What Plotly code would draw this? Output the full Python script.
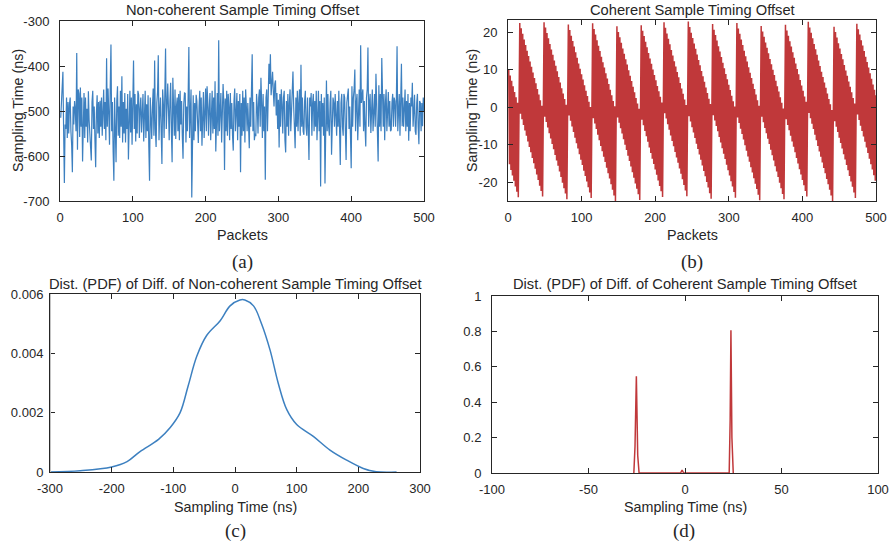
import plotly.graph_objects as go

# %% DATA
packets = list(range(1, 501))

# (a) non-coherent sample timing offset (ns)
noncoherent_offset = [
    -515, -470, -455, -413, -545, -660, -530, -540, -470, -560, -480, -550, -485, -470, -545, -575, -636, -490, -530, -478,
    -498, -545, -371, -586, -452, -462, -558, -448, -535, -470, -612, -500, -460, -560, -470, -535, -495, -570, -456, -520,
    -545, -575, -610, -480, -455, -540, -490, -565, -625, -505, -465, -550, -480, -560, -477, -535, -470, -555, -505, -452,
    -540, -480, -565, -383, -535, -450, -505, -575, -448, -352, -545, -480, -590, -655, -470, -540, -614, -478, -445, -555,
    -490, -560, -455, -535, -423, -570, -480, -550, -460, -570, -495, -540, -462, -608, -485, -455, -548, -470, -575, -500,
    -388, -540, -462, -568, -485, -550, -455, -464, -560, -495, -470, -548, -480, -462, -568, -495, -455, -560, -485, -545,
    -465, -580, -655, -470, -540, -562, -490, -450, -555, -388, -540, -580, -482, -458, -376, -565, -500, -470, -545, -618,
    -452, -485, -560, -462, -361, -540, -470, -439, -495, -565, -478, -437, -545, -614, -426, -485, -555, -452, -562, -490,
    -470, -545, -462, -565, -455, -530, -478, -555, -606, -485, -460, -461, -570, -490, -545, -470, -358, -560, -485, -452,
    -692, -495, -465, -565, -482, -545, -464, -478, -555, -571, -490, -455, -545, -470, -577, -495, -458, -560, -482, -450,
    -545, -445, -478, -555, -495, -460, -565, -480, -455, -550, -470, -540, -434, -590, -490, -460, -555, -343, -545, -480,
    -460, -570, -495, -440, -480, -631, -472, -545, -455, -555, -462, -490, -565, -460, -540, -482, -555, -588, -478, -450,
    -545, -488, -460, -565, -478, -535, -462, -636, -482, -555, -455, -545, -470, -570, -452, -490, -545, -482, -555, -583,
    -470, -535, -455, -374, -545, -480, -565, -550, -556, -462, -490, -550, -470, -452, -535, -426, -482, -560, -462, -545,
    -490, -653, -470, -452, -545, -455, -395, -440, -374, -465, -420, -413, -455, -490, -440, -432, -510, -460, -540, -475,
    -581, -462, -535, -452, -485, -550, -470, -455, -565, -592, -478, -535, -462, -555, -482, -452, -545, -482, -470, -412,
    -490, -565, -583, -470, -535, -455, -545, -482, -452, -555, -397, -535, -470, -545, -553, -478, -455, -535, -555, -470,
    -545, -609, -470, -490, -460, -555, -482, -462, -545, -478, -535, -455, -565, -482, -455, -545, -478, -668, -462, -535,
    -482, -555, -470, -661, -490, -432, -545, -462, -535, -555, -482, -455, -597, -545, -470, -482, -535, -462, -516, -555,
    -478, -535, -455, -545, -620, -482, -462, -535, -555, -462, -470, -545, -609, -482, -462, -450, -540, -490, -555, -627,
    -445, -535, -470, -452, -408, -545, -482, -462, -565, -478, -452, -535, -354, -482, -462, -452, -545, -478, -535, -579,
    -470, -452, -359, -535, -482, -462, -549, -478, -452, -545, -482, -462, -535, -417, -482, -555, -612, -443, -535, -462,
    -545, -382, -478, -535, -462, -565, -482, -452, -545, -470, -458, -535, -478, -545, -542, -482, -462, -535, -470, -478,
    -535, -478, -356, -545, -482, -462, -555, -490, -395, -534, -470, -535, -482, -452, -545, -478, -535, -462, -566, -482,
    -545, -470, -490, -437, -535, -478, -464, -545, -553, -482, -462, -535, -574, -478, -482, -545, -482, -534, -470, -500,
]

# (b) coherent sample timing offset (ns)
coherent_offset = [
    10.0, -15.2, 8.5, -16.7, 7.1, -18.2, 5.6, -19.6, 4.1, -21.1,
    2.7, -22.5, 1.2, -24.0, -0.2, 22.5, -1.7, 21.1, -3.2, 19.6,
    -4.7, 18.1, -6.2, 16.6, -7.6, 15.1, -9.1, 13.7, -10.6, 12.2,
    -12.0, 10.8, -13.5, 9.3, -14.9, 7.8, -16.4, 6.4, -17.9, 4.9,
    -19.4, 3.4, -20.9, 1.9, -22.3, 0.4, -23.8, -1.0, 22.7, -2.5,
    21.3, -3.9, 19.8, -5.4, 18.4, -6.9, 16.9, -8.3, 15.4, -9.8,
    14.0, -11.2, 12.5, -12.7, 11.1, -14.2, 9.6, -15.6, 8.1, -17.1,
    6.6, -18.6, 5.1, -20.1, 3.7, -21.6, 2.2, -23.0, 0.7, -24.5,
    -0.7, 22.1, -2.2, 20.6, -3.6, 19.1, -5.1, 17.7, -6.6, 16.2,
    -8.1, 14.7, -9.6, 13.2, -11.0, 11.7, -12.5, 10.3, -14.0, 8.8,
    -15.4, 7.4, -16.9, 5.9, -18.3, 4.4, -19.8, 3.0, -21.3, 1.5,
    -22.7, 0.1, -24.2, -1.4, 22.4, -2.9, 20.9, -4.3, 19.4, -5.8,
    17.9, -7.3, 16.4, -8.8, 15.0, -10.3, 13.5, -11.7, 12.0, -13.2,
    10.6, -14.6, 9.1, -16.1, 7.7, -17.6, 6.2, -19.0, 4.7, -20.5,
    3.2, -22.0, 1.7, -23.5, 0.3, -25.0, -1.2, 21.6, -2.7, 20.1,
    -4.1, 18.7, -5.6, 17.2, -7.0, 15.7, -8.5, 14.3, -10.0, 12.8,
    -11.4, 11.4, -12.9, 9.9, -14.3, 8.4, -15.8, 7.0, -17.3, 5.5,
    -18.8, 4.0, -20.3, 2.5, -21.7, 1.0, -23.2, -0.4, -24.7, -1.9,
    21.9, -3.3, 20.4, -4.8, 19.0, -6.3, 17.5, -7.7, 16.0, -9.2,
    14.5, -10.7, 13.0, -12.2, 11.6, -13.7, 10.1, -15.1, 8.6, -16.6,
    7.2, -18.0, 5.7, -19.5, 4.3, -21.0, 2.8, -22.4, 1.3, -23.9,
    -0.1, 22.7, -1.6, 21.2, -3.0, 19.7, -4.5, 18.3, -6.0, 16.8,
    -7.5, 15.3, -9.0, 13.8, -10.4, 12.3, -11.9, 10.9, -13.4, 9.4,
    -14.8, 8.0, -16.3, 6.5, -17.7, 5.0, -19.2, 3.6, -20.7, 2.1,
    -22.2, 0.6, -23.7, -0.9, 22.9, -2.4, 21.4, -3.8, 19.9, -5.3,
    18.5, -6.7, 17.0, -8.2, 15.6, -9.7, 14.1, -11.1, 12.6, -12.6,
    11.2, -14.0, 9.7, -15.5, 8.3, -17.0, 6.8, -18.4, 5.3, -19.9,
    3.8, -21.4, 2.3, -22.9, 0.9, -24.4, -0.6, 22.2, -2.1, 20.7,
    -3.5, 19.3, -5.0, 17.8, -6.4, 16.3, -7.9, 14.9, -9.4, 13.4,
    -10.9, 11.9, -12.4, 10.4, -13.8, 8.9, -15.3, 7.5, -16.8, 6.0,
    -18.2, 4.6, -19.7, 3.1, -21.1, 1.6, -22.6, 0.2, -24.1, -1.3,
    22.5, -2.7, 21.0, -4.2, 19.6, -5.7, 18.1, -7.1, 16.6, -8.6,
    15.1, -10.1, 13.6, -11.6, 12.2, -13.1, 10.7, -14.5, 9.2, -16.0,
    7.8, -17.4, 6.3, -18.9, 4.9, -20.4, 3.4, -21.8, 1.9, -23.3,
    0.4, -24.8, -1.1, 21.7, -2.5, 20.2, -4.0, 18.8, -5.5, 17.3,
    -6.9, 15.9, -8.4, 14.4, -9.8, 12.9, -11.3, 11.5, -12.8, 10.0,
    -14.2, 8.6, -15.7, 7.1, -17.1, 5.6, -18.6, 4.2, -20.1, 2.7,
    -21.6, 1.2, -23.1, -0.3, -24.5, -1.8, 22.0, -3.2, 20.5, -4.7,
    19.1, -6.1, 17.6, -7.6, 16.2, -9.1, 14.7, -10.5, 13.2, -12.0,
    11.7, -13.5, 10.2, -15.0, 8.8, -16.5, 7.3, -17.9, 5.8, -19.4,
    4.4, -20.8, 2.9, -22.3, 1.5, -23.8, 0.0, 22.8, -1.5, 21.3,
    -2.9, 19.9, -4.4, 18.4, -5.8, 16.9, -7.3, 15.5, -8.8, 14.0,
    -10.3, 12.5, -11.8, 11.0, -13.2, 9.5, -14.7, 8.1, -16.2, 6.6,
    -17.6, 5.2, -19.1, 3.7, -20.5, 2.2, -22.0, 0.8, -23.5, -0.7,
    -25.0, -2.2, 21.5, -3.7, 20.1, -5.2, 18.6, -6.6, 17.1, -8.1,
    15.7, -9.5, 14.2, -11.0, 12.8, -12.5, 11.3, -13.9, 9.8, -15.4,
    8.4, -16.8, 6.9, -18.3, 5.5, -19.8, 4.0, -21.2, 2.5, -22.7,
    1.0, -24.2, -0.5, 22.3, -1.9, 20.8, -3.4, 19.4, -4.9, 17.9,
    -6.3, 16.5, -7.8, 15.0, -9.2, 13.5, -10.7, 12.1, -12.2, 10.6,
    -13.7, 9.1, -15.2, 7.6, -16.6, 6.1, -18.1, 4.7, -19.6, 3.2,
]

# (c) PDF of diff of non-coherent offset
pdf_nc_time = [-300, -251, -200, -175, -154, -124, -105, -89, -76, -62, -46, -24, -8, 8, 16,
               30, 43, 57, 70, 84, 100, 127, 154, 181, 208, 229, 262]
pdf_nc_value = [0, 0.000045, 0.00017, 0.00035, 0.00069, 0.0011, 0.0015, 0.0020, 0.0029, 0.0039,
                0.0046, 0.0051, 0.0056, 0.0058, 0.0058, 0.0056, 0.0050, 0.0041, 0.0030, 0.0021,
                0.0016, 0.0012, 0.00074, 0.0004, 0.00012, 0.00001, 0]

# (d) PDF of diff of coherent offset
pdf_c_time = [-26.5, -25.9, -25.2, -24.5, -23.8, -2.3, -1.5, -0.7, 22.9, 23.4, 23.8, 24.3, 25.0]
pdf_c_value = [0, 0.15, 0.547, 0.10, 0, 0, 0.017, 0, 0, 0.30, 0.806, 0.20, 0]

BLUE = "#3d80c0"
RED = "#c0383a"
INK = "#262626"
FONT = "Arial, Liberation Sans, sans-serif"
SERIF = "Times New Roman, Liberation Serif, serif"

# %% FIGURE
fig = go.Figure()
fig.add_trace(go.Scatter(x=packets, y=noncoherent_offset, mode="lines",
                         line=dict(color=BLUE, width=1.2), xaxis="x", yaxis="y"))
fig.add_trace(go.Scatter(x=packets, y=coherent_offset, mode="lines",
                         line=dict(color=RED, width=1.5), xaxis="x2", yaxis="y2"))
fig.add_trace(go.Scatter(x=pdf_nc_time, y=pdf_nc_value, mode="lines", line_shape="spline",
                         line=dict(color=BLUE, width=1.5), xaxis="x3", yaxis="y3"))
fig.add_trace(go.Scatter(x=pdf_c_time, y=pdf_c_value, mode="lines",
                         line=dict(color=RED, width=1.5), xaxis="x4", yaxis="y4"))


def ax(domain, rng, tickvals, anchor, ticktext=None, standoff=4):
    return dict(domain=domain, range=rng, tickvals=tickvals,
                ticktext=ticktext or [str(v) for v in tickvals], anchor=anchor,
                automargin=False, showline=True, linecolor=INK, linewidth=1,
                mirror="ticks", ticks="inside", ticklen=5, tickcolor=INK,
                showgrid=False, zeroline=False, ticklabelstandoff=standoff,
                tickfont=dict(family=FONT, size=13, color=INK))


W, H = 891, 549
fig.update_layout(
    template="none",
    width=W, height=H, margin=dict(l=0, r=0, t=0, b=0, pad=0),
    paper_bgcolor="white", plot_bgcolor="white", showlegend=False,
    xaxis=ax([60 / W, 424 / W], [0, 500], [0, 100, 200, 300, 400, 500], "y"),
    yaxis=ax([1 - 201 / H, 1 - 21 / H], [-700, -300], [-700, -600, -500, -400, -300], "x",
             standoff=7),
    xaxis2=ax([508 / W, 876 / W], [0, 500], [0, 100, 200, 300, 400, 500], "y2"),
    yaxis2=ax([1 - 201 / H, 1 - 20 / H], [-25, 23.3], [-20, -10, 0, 10, 20], "x2",
              standoff=7),
    xaxis3=ax([50 / W, 420 / W], [-300, 300], [-300, -200, -100, 0, 100, 200, 300], "y3"),
    yaxis3=ax([1 - 472 / H, 1 - 294 / H], [0, 0.006], [0, 0.002, 0.004, 0.006], "x3",
              ["0", "0.002", "0.004", "0.006"], standoff=3),
    xaxis4=ax([492 / W, 878 / W], [-100, 100], [-100, -50, 0, 50, 100], "y4"),
    yaxis4=ax([1 - 473 / H, 1 - 296 / H], [0, 1], [0, 0.2, 0.4, 0.6, 0.8, 1], "x4",
              ["0", "0.2", "0.4", "0.6", "0.8", "1"], standoff=7),
)

# light grey left spine of panel (c), as in the source figure
fig.add_shape(type="line", xref="x3", yref="y3", x0=-300, x1=-300, y0=0, y1=0.006,
              line=dict(color="#c4c4c4", width=2), layer="above")


def label(text, x, y, size=14.3, angle=0, family=FONT):
    fig.add_annotation(text=text, x=x / W, y=1 - y / H, xref="paper", yref="paper",
                       showarrow=False, textangle=angle, xanchor="center", yanchor="middle",
                       font=dict(family=family, size=size, color=INK))


label("Non-coherent Sample Timing Offset", 242, 10, size=14.7)
label("Coherent Sample Timing Offset", 692, 10, size=14.7)
label("Dist. (PDF) of Diff. of Non-coherent Sample Timing Offset", 235, 284, size=14.7)
label("Dist. (PDF) of Diff. of Coherent Sample Timing Offset", 685, 284, size=14.7)
label("Packets", 242, 235)
label("Packets", 692, 235)
label("Sampling Time (ns)", 18, 111, angle=-90)
label("Sampling Time (ns)", 472, 111, angle=-90)
label("Sampling Time (ns)", 235, 507)
label("Sampling Time (ns)", 685, 507)
label("(a)", 242, 262, size=19, family=SERIF)
label("(b)", 692, 262, size=19, family=SERIF)
label("(c)", 235, 531, size=19, family=SERIF)
label("(d)", 684, 531, size=19, family=SERIF)

# the page has a default 8px body margin; remove it so the figure fills the window
fig.write_html("out.html", config={"displayModeBar": False},
               post_script="document.body.style.margin = '0';")
